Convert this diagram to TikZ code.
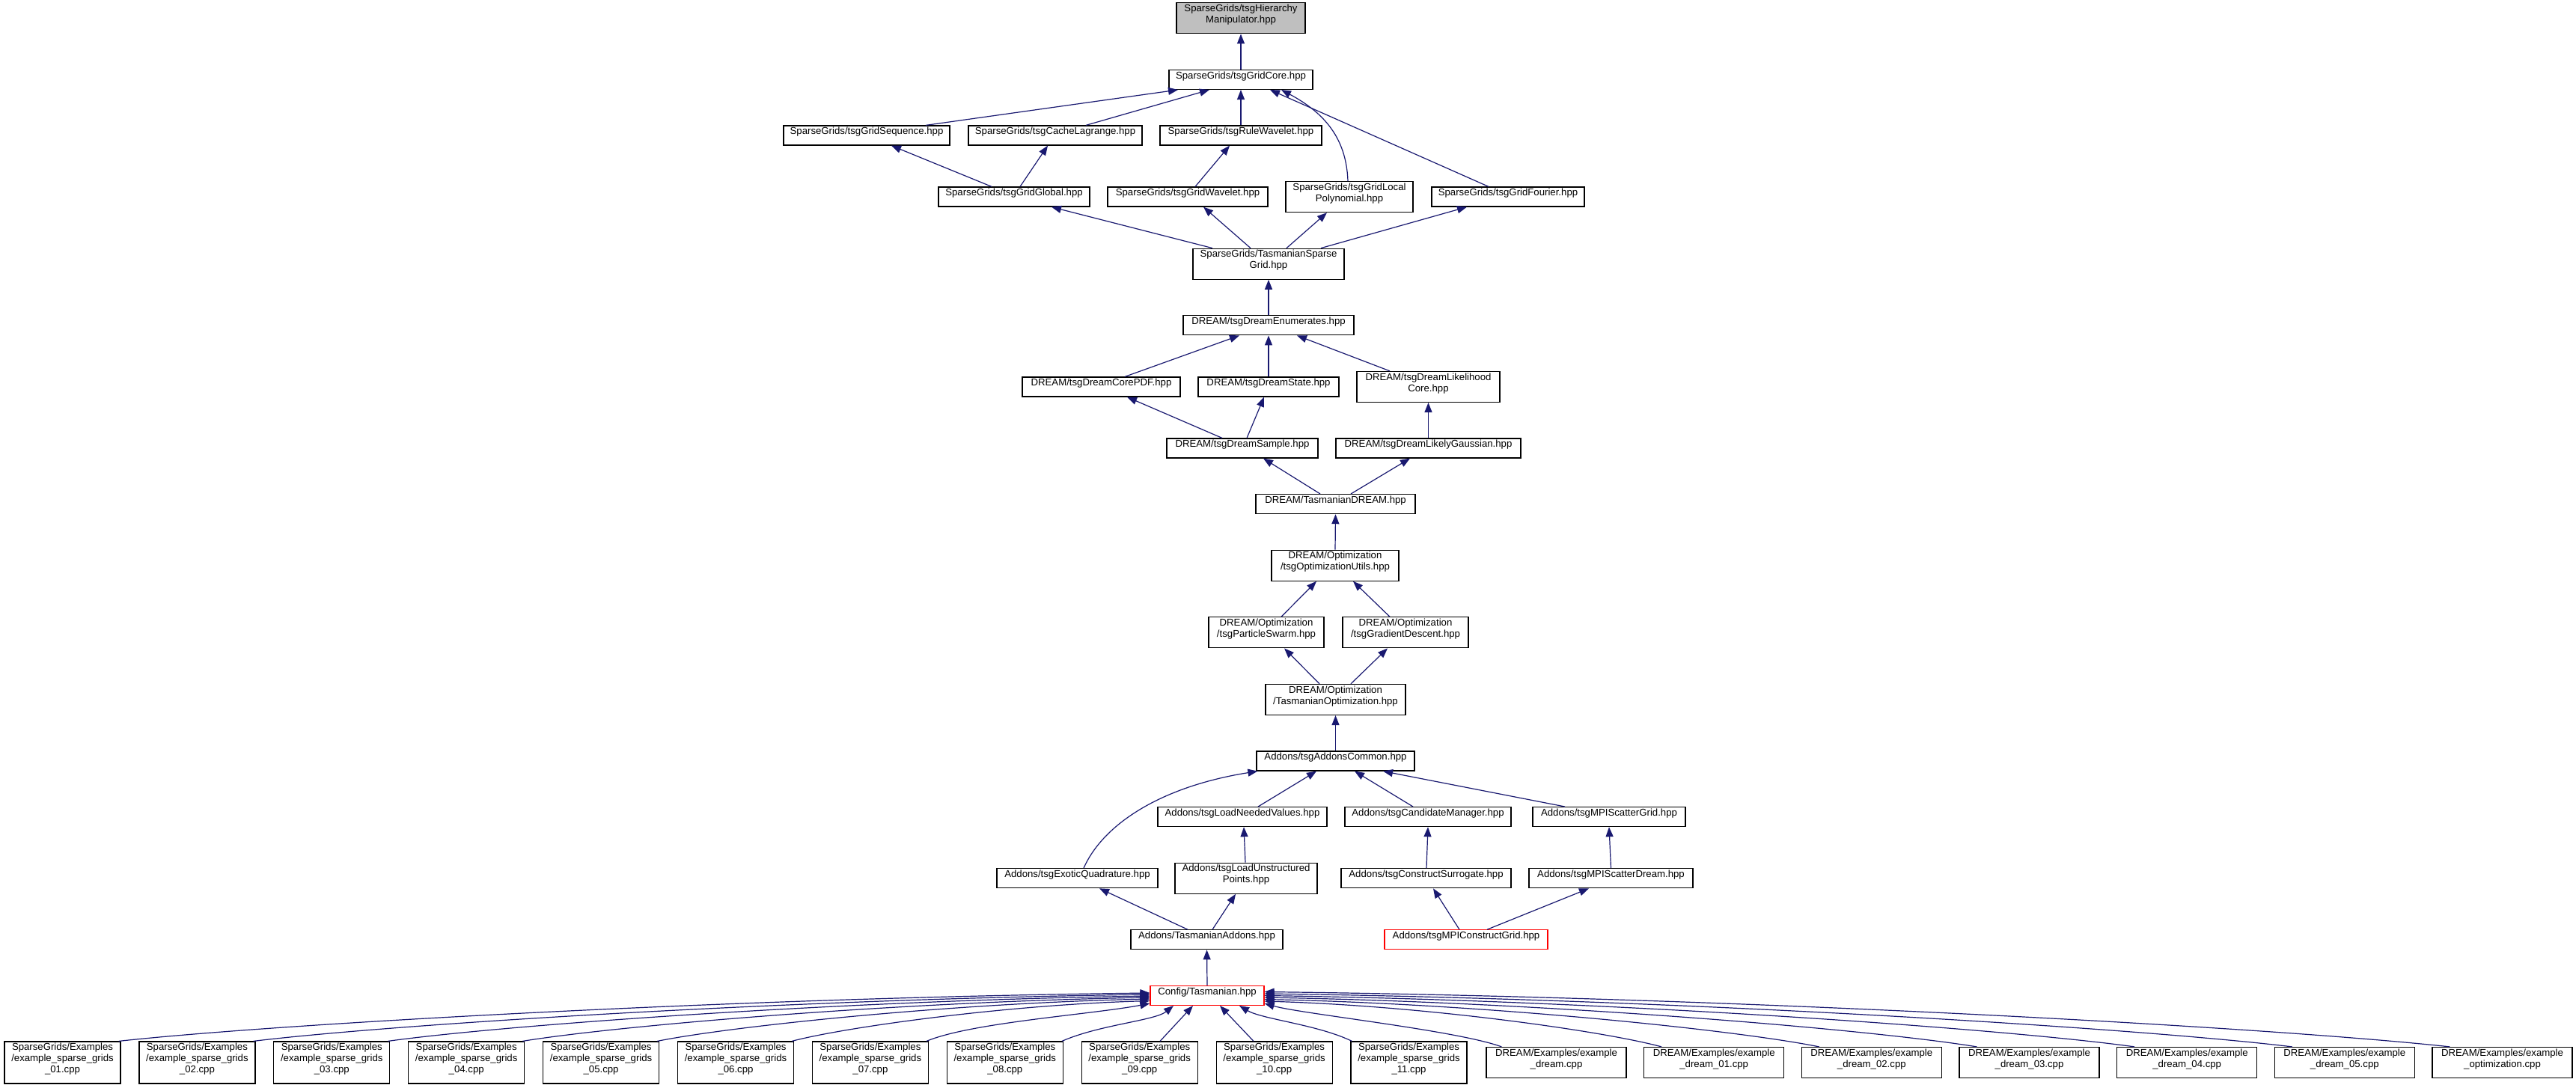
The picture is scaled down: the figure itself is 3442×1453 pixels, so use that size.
\documentclass[tikz,border=0pt]{standalone}
\usepackage{fontspec}
\setmainfont{Liberation Sans}
\usetikzlibrary{arrows.meta,calc,fit}
\definecolor{edgecol}{HTML}{191970}
\definecolor{rootfill}{HTML}{BFBFBF}
\definecolor{redline}{HTML}{FF0000}
\tikzset{
  nbox/.style={draw=black, line width=0.6pt, fill=white, inner sep=0pt,
    font=\fontsize{6.6pt}{7.5pt}\selectfont, align=center},
  lbox/.style={nbox, align=left},
  redbox/.style={nbox, draw=redline},
  rootbox/.style={nbox, fill=rootfill},
  edge/.style={draw=edgecol, line width=0.6pt,
    -{Triangle[length=6.5pt,width=5pt,fill=edgecol]}}
}
\begin{document}
\begin{tikzpicture}[x=0.5pt,y=-0.5pt]
\useasboundingbox (0,0) rectangle (3442,1453);
% ---- nodes ----
\node[rootbox, fit={(1572,3.8)(1744,44.8)}] (hier) {SparseGrids/tsgHierarchy\\Manipulator.hpp};
\node[nbox, fit={(1562,93.4)(1754,119.4)}] (core) {SparseGrids/tsgGridCore.hpp};
\node[nbox, fit={(1047,168)(1269,194)}] (seq) {SparseGrids/tsgGridSequence.hpp};
\node[nbox, fit={(1294,168)(1526,194)}] (cache) {SparseGrids/tsgCacheLagrange.hpp};
\node[nbox, fit={(1550,168)(1766,194)}] (rulew) {SparseGrids/tsgRuleWavelet.hpp};
\node[nbox, fit={(1254,250)(1456,276)}] (global) {SparseGrids/tsgGridGlobal.hpp};
\node[nbox, fit={(1480,250)(1694,276)}] (gwave) {SparseGrids/tsgGridWavelet.hpp};
\node[nbox, fit={(1718,242.6)(1888,283.6)}] (lpoly) {SparseGrids/tsgGridLocal\\Polynomial.hpp};
\node[nbox, fit={(1913,250)(2117,276)}] (fourier) {SparseGrids/tsgGridFourier.hpp};
\node[nbox, fit={(1594,332.2)(1796,373.2)}] (tsg) {SparseGrids/TasmanianSparse\\Grid.hpp};
\node[nbox, fit={(1581,421.8)(1809,447.8)}] (enum) {DREAM/tsgDreamEnumerates.hpp};
\node[nbox, fit={(1366,504)(1577,530)}] (corepdf) {DREAM/tsgDreamCorePDF.hpp};
\node[nbox, fit={(1601,504)(1789,530)}] (state) {DREAM/tsgDreamState.hpp};
\node[nbox, fit={(1813,496.4)(2004,537.4)}] (likecore) {DREAM/tsgDreamLikelihood\\Core.hpp};
\node[nbox, fit={(1559,586)(1761,612)}] (sample) {DREAM/tsgDreamSample.hpp};
\node[nbox, fit={(1785,586)(2032,612)}] (gauss) {DREAM/tsgDreamLikelyGaussian.hpp};
\node[nbox, fit={(1678,660.6)(1891,686.6)}] (tdream) {DREAM/TasmanianDREAM.hpp};
\node[lbox, fit={(1699,735.2)(1869,776.2)}] (optutils) {DREAM/Optimization\\/tsgOptimizationUtils.hpp};
\node[lbox, fit={(1615,824.8)(1769,865.8)}] (pswarm) {DREAM/Optimization\\/tsgParticleSwarm.hpp};
\node[lbox, fit={(1794,824.8)(1962,865.8)}] (gdesc) {DREAM/Optimization\\/tsgGradientDescent.hpp};
\node[lbox, fit={(1691,914.4)(1878,955.4)}] (topt) {DREAM/Optimization\\/TasmanianOptimization.hpp};
\node[nbox, fit={(1679,1004)(1890,1030)}] (acommon) {Addons/tsgAddonsCommon.hpp};
\node[nbox, fit={(1547,1078.6)(1773,1104.6)}] (loadneed) {Addons/tsgLoadNeededValues.hpp};
\node[nbox, fit={(1797,1078.6)(2019,1104.6)}] (candman) {Addons/tsgCandidateManager.hpp};
\node[nbox, fit={(2048,1078.6)(2252,1104.6)}] (mpisg) {Addons/tsgMPIScatterGrid.hpp};
\node[nbox, fit={(1332,1160.7)(1547,1186.7)}] (exotic) {Addons/tsgExoticQuadrature.hpp};
\node[nbox, fit={(1570,1153.2)(1760,1194.2)}] (loadunst) {Addons/tsgLoadUnstructured\\Points.hpp};
\node[nbox, fit={(1792,1160.7)(2019,1186.7)}] (csurr) {Addons/tsgConstructSurrogate.hpp};
\node[nbox, fit={(2043,1160.7)(2262,1186.7)}] (mpisd) {Addons/tsgMPIScatterDream.hpp};
\node[nbox, fit={(1511,1242.8)(1714,1268.8)}] (taddons) {Addons/TasmanianAddons.hpp};
\node[redbox, fit={(1850,1242.8)(2068,1268.8)}] (mpicg) {Addons/tsgMPIConstructGrid.hpp};
\node[redbox, fit={(1537,1317.4)(1689,1343.4)}] (config) {Config/Tasmanian.hpp};
% bottom row
\foreach \i/\x/\t in {1/6/01,2/185.9/02,3/365.8/03,4/545.7/04,5/725.6/05,6/905.5/06,
  7/1085.4/07,8/1265.3/08,9/1445.2/09,10/1625.1/10,11/1805/11}{
  \node[nbox, fit={(\x,1392)(\x+155,1448)}] (s\i) {SparseGrids/Examples\\/example\_sparse\_grids\\\_\t.cpp};
}
\foreach \j/\x/\t in {0/1986/dream,1/2196.7/dream\_01,2/2407.3/dream\_02,3/2618/dream\_03,
  4/2828.7/dream\_04,5/3039.3/dream\_05,6/3250/optimization}{
  \node[nbox, fit={(\x,1399.5)(\x+187,1440.5)}] (d\j) {DREAM/Examples/example\\\_\t.cpp};
}
% ---- edges ----
\draw[edge] (core.north) -- (hier.south);
\draw[edge] ($(seq.north)+(79,0)$) -- ($(core.south)+(-84,0)$);
\draw[edge] ($(cache.north)+(41,0)$) -- ($(core.south)+(-42,0)$);
\draw[edge] (rulew.north) -- (core.south);
\draw[edge] ($(lpoly.north)+(-2,0)$) .. controls +(-2,-57) and +(58,31) .. ($(core.south)+(54,0)$);
\draw[edge] ($(fourier.north)+(-26,0)$) -- ($(core.south)+(39,0)$);
\draw[edge] ($(global.north)+(-30,0)$) -- ($(seq.south)+(33,0)$);
\draw[edge] ($(global.north)+(8,0)$) -- ($(cache.south)+(-10,0)$);
\draw[edge] ($(gwave.north)+(10,0)$) -- ($(rulew.south)+(-15,0)$);
\draw[edge] ($(tsg.north)+(-75,0)$) -- ($(global.south)+(50,0)$);
\draw[edge] ($(tsg.north)+(-24,0)$) -- ($(gwave.south)+(21,0)$);
\draw[edge] ($(tsg.north)+(24,0)$) -- ($(lpoly.south)+(-30,0)$);
\draw[edge] ($(tsg.north)+(70,0)$) -- ($(fourier.south)+(-55,0)$);
\draw[edge] (enum.north) -- (tsg.south);
\draw[edge] ($(corepdf.north)+(31.5,0)$) -- ($(enum.south)+(-39,0)$);
\draw[edge] (state.north) -- (enum.south);
\draw[edge] ($(likecore.north)+(-51.5,0)$) -- ($(enum.south)+(38,0)$);
\draw[edge] ($(sample.north)+(-27,0)$) -- ($(corepdf.south)+(34.5,0)$);
\draw[edge] ($(sample.north)+(6,0)$) -- ($(state.south)+(-6,0)$);
\draw[edge] (gauss.north) -- (likecore.south);
\draw[edge] ($(tdream.north)+(-20.5,0)$) -- ($(sample.south)+(28,0)$);
\draw[edge] ($(tdream.north)+(20.5,0)$) -- ($(gauss.south)+(-24.5,0)$);
\draw[edge] (optutils.north) -- (tdream.south);
\draw[edge] ($(pswarm.north)+(20,0)$) -- ($(optutils.south)+(-25,0)$);
\draw[edge] ($(gdesc.north)+(-21,0)$) -- ($(optutils.south)+(24,0)$);
\draw[edge] ($(topt.north)+(-21.5,0)$) -- ($(pswarm.south)+(24,0)$);
\draw[edge] ($(topt.north)+(20.5,0)$) -- ($(gdesc.south)+(-24,0)$);
\draw[edge] (acommon.north) -- (topt.south);
\draw[edge] ($(exotic.north)+(8.5,0)$) .. controls +(27,-60.7) and +(-126,20) .. ($(acommon.south west)+(2,0)$);
\draw[edge] ($(loadneed.north)+(21,0)$) -- ($(acommon.south)+(-25.5,0)$);
\draw[edge] ($(candman.north)+(-20,0)$) -- ($(acommon.south)+(25.5,0)$);
\draw[edge] ($(mpisg.north)+(-59,0)$) -- ($(acommon.south)+(63.5,0)$);
\draw[edge] ($(loadunst.north)+(-1,0)$) -- ($(loadneed.south)+(2,0)$);
\draw[edge] ($(csurr.north)+(0.5,0)$) -- (candman.south);
\draw[edge] (mpisd.north) -- (mpisg.south);
\draw[edge] ($(taddons.north)+(-25.5,0)$) -- ($(exotic.south)+(29.5,0)$);
\draw[edge] ($(taddons.north)+(7.5,0)$) -- ($(loadunst.south)+(-14,0)$);
\draw[edge] ($(mpicg.north)+(-9,0)$) -- ($(csurr.south)+(9.5,0)$);
\draw[edge] ($(mpicg.north)+(28,0)$) -- ($(mpisd.south)+(-29.5,0)$);
\draw[edge] (config.north) -- (taddons.south);
% fan to Config/Tasmanian.hpp
\foreach \n/\a/\b/\c/\d/\e in {s1/207/22.8/552/6.5/-3.4, s2/180/22/480/6.3/-1.4,
  s3/153/21.4/408/6.1/0.6, s4/126/20.7/336/5.9/2.6, s5/99/20/264/5.7/4.6,
  s6/72/19/192/5.5/7.1, s7/60/25/80/15/10.6}{
  \draw[edge] ($(\n.north east)+(-3,0)$) .. controls +(\a,-\b) and +(-\c,\d) .. ($(config.west)+(0,\e)$);
}
\draw[edge] ($(s8.north east)+(-2,0)$) .. controls +(50,-22) and +(-25,20) .. ($(config.south)+(-45,0)$);
\draw[edge] ($(s9.north)+(27.3,0)$) -- ($(config.south)+(-19,0)$);
\draw[edge] ($(s10.north)+(-27.6,0)$) -- ($(config.south)+(17,0)$);
\draw[edge] ($(s11.north west)+(2,0)$) .. controls +(-45,-22) and +(30,18) .. ($(config.south)+(43,0)$);
\draw[edge] ($(d0.north west)+(21,0)$) .. controls +(-60,-22) and +(50,14) .. ($(config.east)+(0,10.6)$);
\foreach \n/\a/\b/\c/\d/\e in {d1/80/21.5/213/6.2/7.6, d2/111/22.4/297/6.4/5.1,
  d3/143/23.3/381/6.7/2.6, d4/175/24.2/466/6.9/0.1, d5/206/25/550/7.2/-2.4,
  d6/238/25.9/634/7.4/-4.9}{
  \draw[edge] ($(\n.north west)+(24,0)$) .. controls +(-\a,-\b) and +(\c,\d) .. ($(config.east)+(0,\e)$);
}
\end{tikzpicture}
\end{document}
